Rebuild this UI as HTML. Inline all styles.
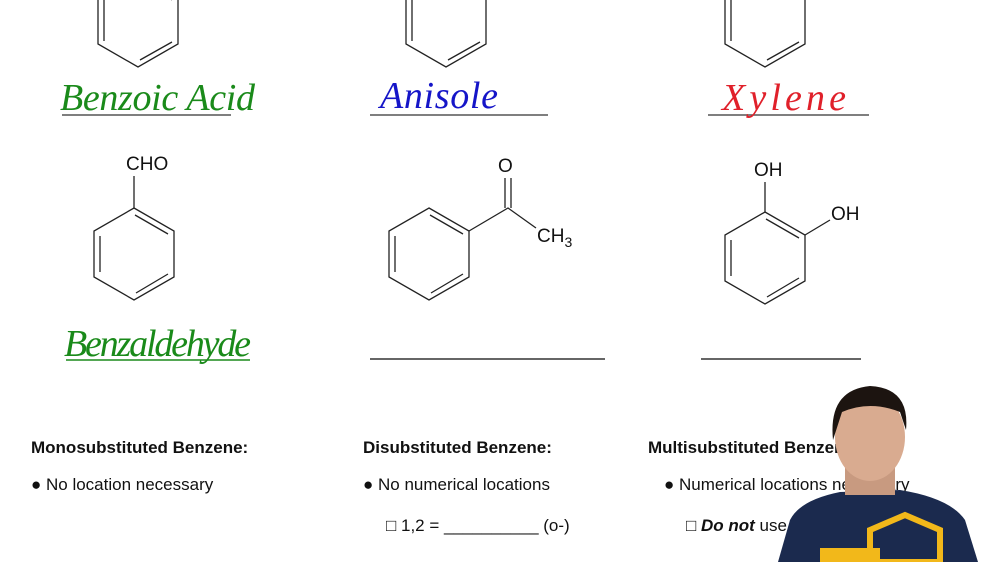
<!DOCTYPE html>
<html><head><style>
body{margin:0;width:1000px;height:562px;overflow:hidden;background:#fff;font-family:"Liberation Sans",sans-serif}
</style></head><body>
<svg width="1000" height="562" viewBox="0 0 1000 562" xmlns="http://www.w3.org/2000/svg">
<g fill="none" stroke="#222" stroke-width="1.3">
<!-- top rings -->
<path d="M98,-2 L98,44 L138,67 L178,44 L178,-2"/><path d="M104,0 L104,41 M140,60 L172,42 M172,0 L168,-4"/>
<path d="M406,-2 L406,44 L446,67 L486,44 L486,-2"/><path d="M412,0 L412,41 M448,60 L480,42"/>
<path d="M725,-2 L725,44 L765,67 L805,44 L805,-2"/><path d="M731,0 L731,41 M767,60 L799,42"/>
<!-- benzaldehyde -->
<path d="M134,208 L174,231 L174,277 L134,300 L94,277 L94,231 Z"/>
<path d="M135,215 L168,234 M168,274 L136,293 M100,236 L100,272"/>
<path d="M134,208 L134,176"/>
<!-- acetophenone -->
<path d="M429,208 L469,231 L469,277 L429,300 L389,277 L389,231 Z"/>
<path d="M430,215 L463,234 M463,274 L431,293 M395,236 L395,272"/>
<path d="M469,231 L508,208 L536,228 M505,208 L505,178 M511,208 L511,178"/>
<!-- catechol -->
<path d="M765,212 L805,235 L805,281 L765,304 L725,281 L725,235 Z"/>
<path d="M766,219 L799,238 M799,278 L767,297 M731,240 L731,276"/>
<path d="M765,212 L765,182 M805,235 L830,220"/>
</g>
<g fill="#111" font-family="Liberation Sans,sans-serif" font-size="19">
<text x="126" y="170">CHO</text>
<text x="498" y="172">O</text>
<text x="537" y="242">CH<tspan font-size="14" dy="5">3</tspan></text>
<text x="754" y="176">OH</text>
<text x="831" y="220">OH</text>
</g>
<g stroke="#555" stroke-width="1.6">
<line x1="62" y1="115" x2="231" y2="115"/><line x1="370" y1="115" x2="548" y2="115"/><line x1="708" y1="115" x2="869" y2="115"/>
<line x1="66" y1="360" x2="250" y2="360" stroke="#1a8a1a"/>
<line x1="370" y1="359" x2="605" y2="359" stroke="#333"/><line x1="701" y1="359" x2="861" y2="359" stroke="#333"/>
</g>
<g font-family="'Liberation Serif',cursive" font-size="38" font-style="italic">
<text x="60" y="110" fill="#1a8a1a" textLength="195">Benzoic Acid</text>
<text x="380" y="108" fill="#1515c8" textLength="118">Anisole</text>
<text x="722" y="110" fill="#e0202a" textLength="124">Xylene</text>
<text x="64" y="356" fill="#1a8a1a" textLength="187">Benzaldehyde</text>
</g>
<g font-size="17" fill="#111" font-family="Liberation Sans,sans-serif">
<text x="31" y="453" font-weight="bold">Monosubstituted Benzene:</text>
<text x="363" y="453" font-weight="bold">Disubstituted Benzene:</text>
<text x="648" y="453" font-weight="bold">Multisubstituted Benzene:</text>
<text x="31" y="490">● No location necessary</text>
<text x="363" y="490">● No numerical locations</text>
<text x="664" y="490">● Numerical locations necessary</text>
<text x="386" y="531">□ 1,2 = __________ (o-)</text>
<text x="686" y="531">□ <tspan font-weight="bold" font-style="italic">Do not</tspan> use</text>
</g>
<!-- person -->
<path d="M778,562 L790,520 Q800,500 840,492 L900,490 Q950,498 965,520 L978,562 Z" fill="#1b2a4e"/>
<rect x="845" y="455" width="50" height="40" fill="#c89a80"/>
<ellipse cx="870" cy="437" rx="35" ry="44" fill="#d9ab90"/>
<path d="M833,440 Q828,390 870,386 Q910,388 906,430 L900,412 Q870,400 842,412 Z" fill="#1c1410"/>
<path d="M870,530 L905,515 L940,530 L940,562 L870,562 Z" fill="none" stroke="#f2b81a" stroke-width="6"/>
<rect x="820" y="548" width="60" height="14" fill="#f2b81a"/>
</svg>
</body></html>
